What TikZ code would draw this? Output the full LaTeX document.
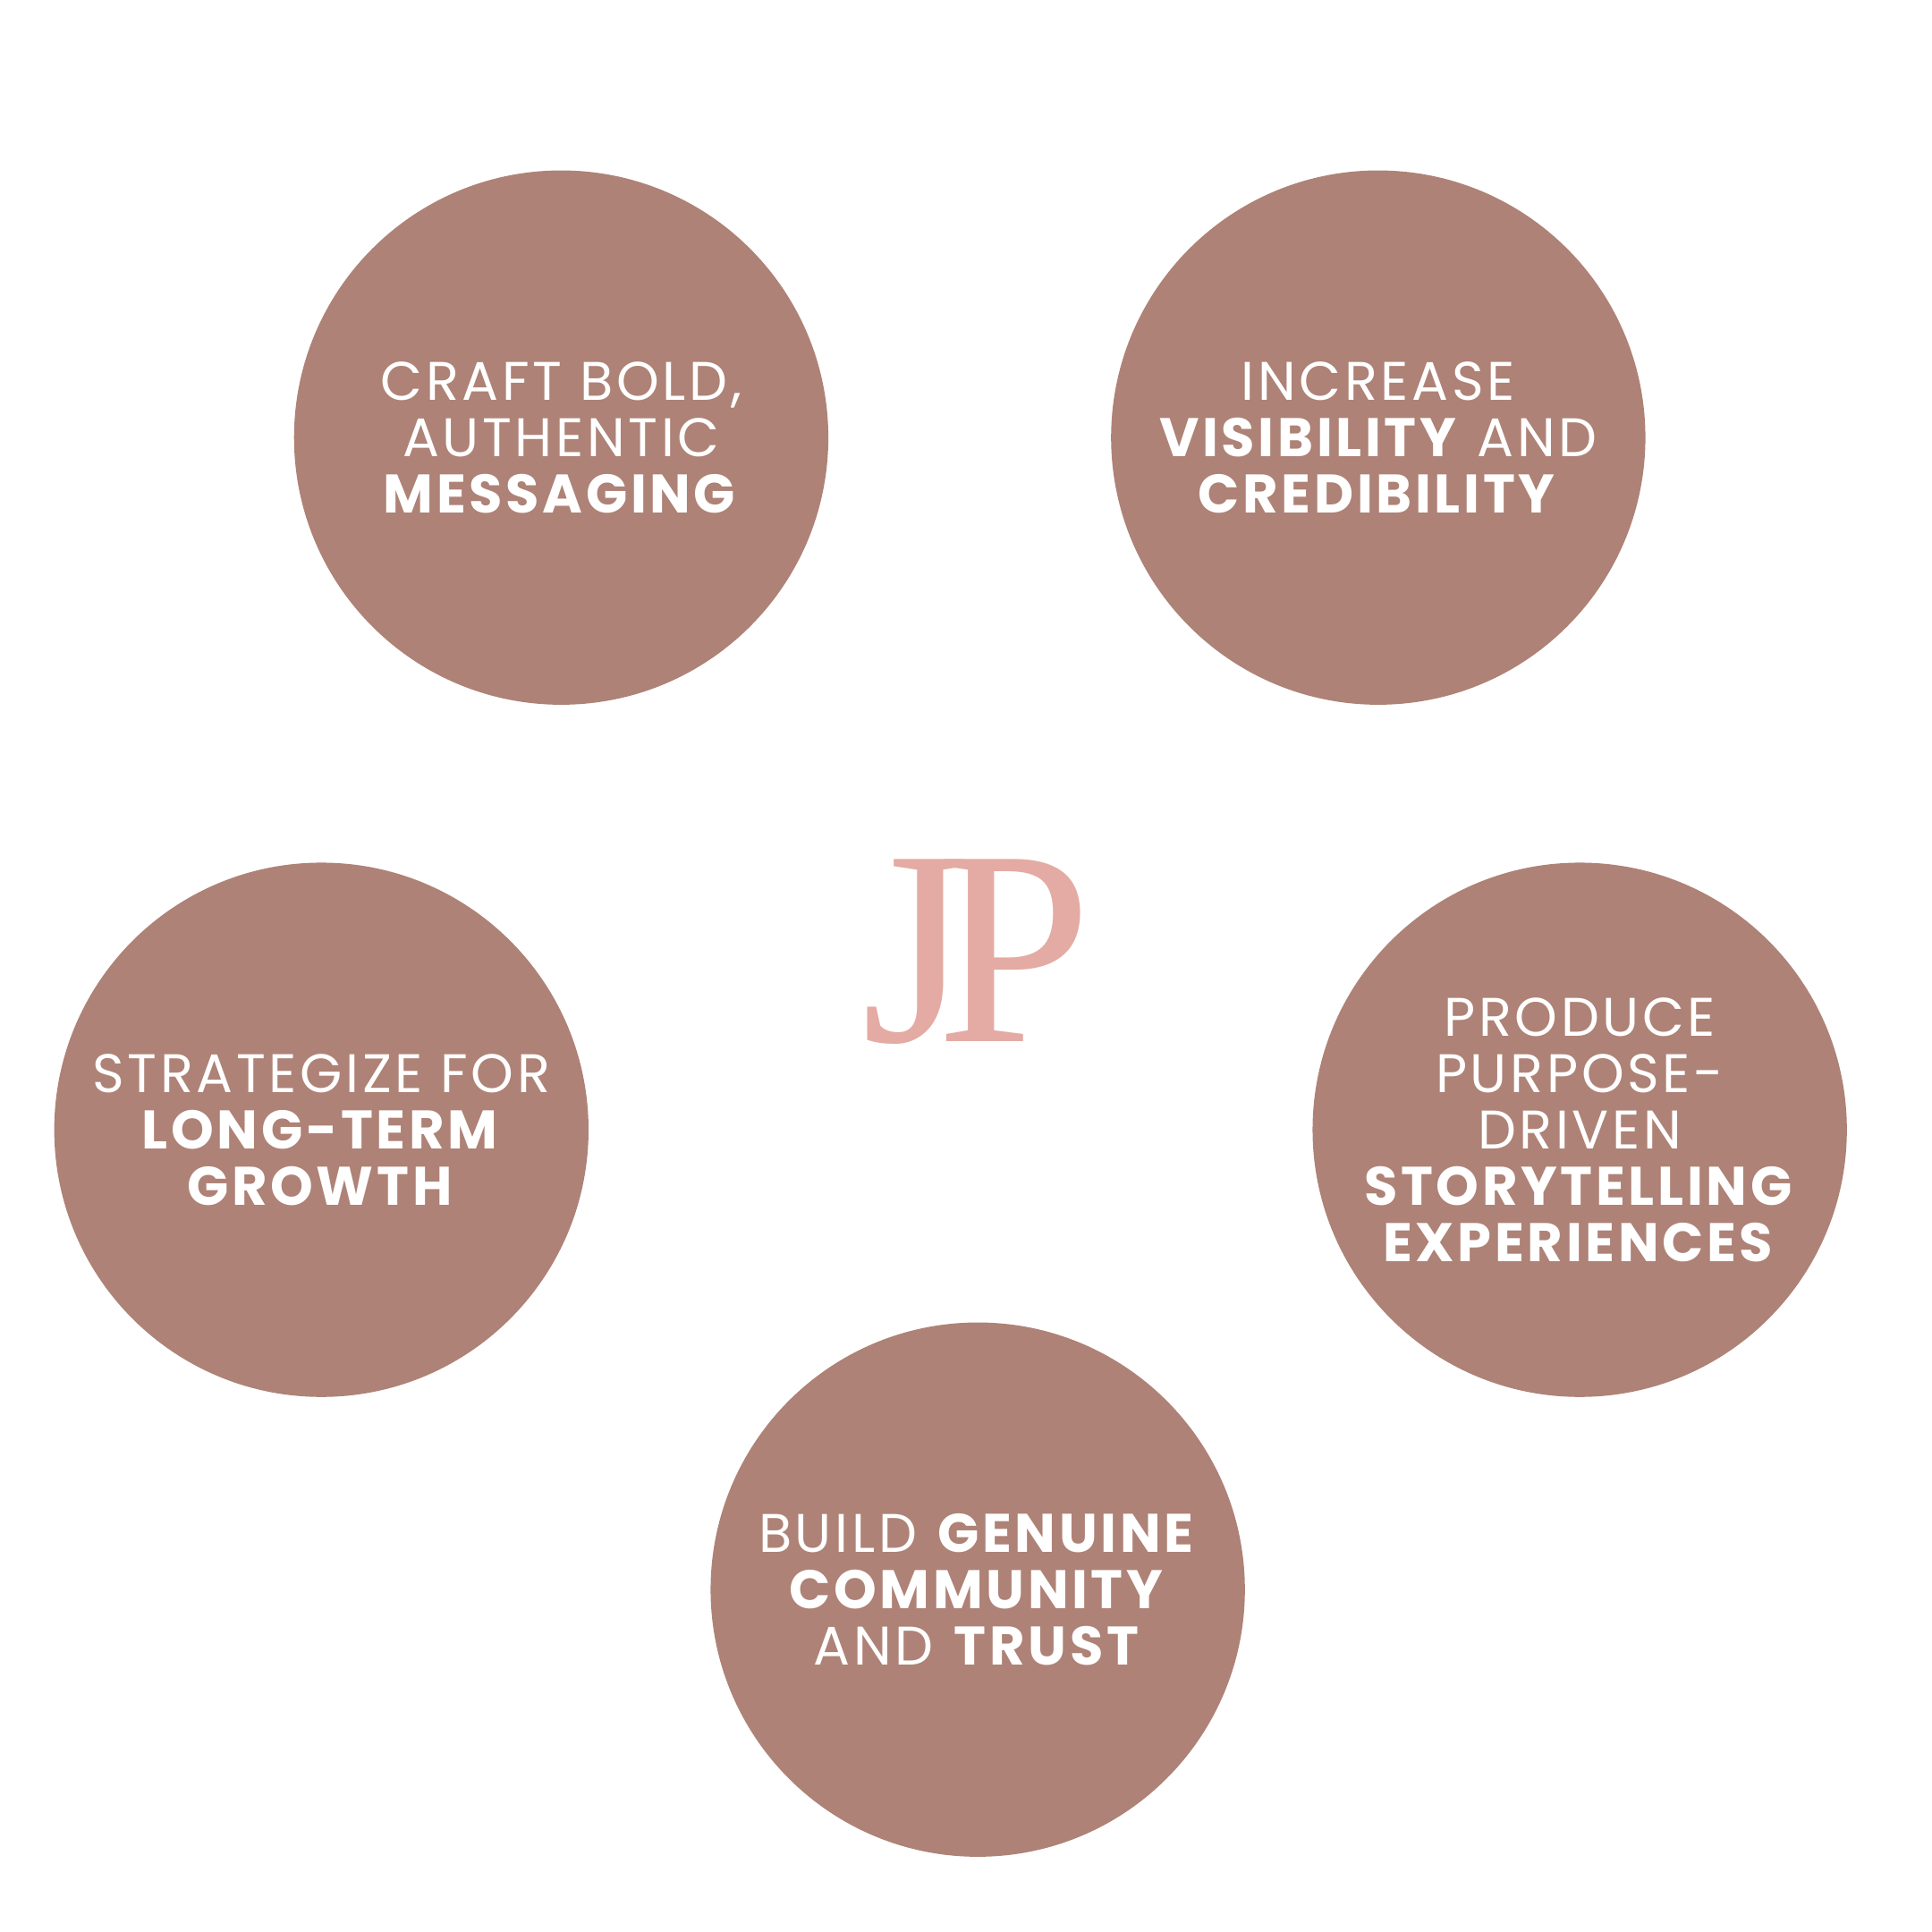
\documentclass[tikz,border=0pt]{standalone}
\usepackage{fontspec}
\setmainfont{Poppins}[LetterSpace=6]
\newfontfamily\logofont{Liberation Serif}
\definecolor{circ}{HTML}{AE8276}
\definecolor{logo}{HTML}{E3ABA3}
\tikzset{goal/.style={circle,fill=circ,minimum size=4.32cm,inner sep=0pt,text=white,align=center,font=\fontsize{12.5}{13}\selectfont}}
\begin{document}
\begin{tikzpicture}[x=0.01cm,y=-0.01cm]
\useasboundingbox (0,0) rectangle (1563,1563);
\node[goal] (c1) at (454,354) {CRAFT BOLD,\\AUTHENTIC\\\textbf{MESSAGING}};
\node[goal] (c2) at (1115,354) {INCREASE\\\textbf{VISIBILITY} AND\\\textbf{CREDIBILITY}};
\node[goal] (c3) at (260,914) {STRATEGIZE FOR\\\textbf{LONG-TERM}\\\textbf{GROWTH}};
\node[goal] (c4) at (1278,914) {PRODUCE\\PURPOSE-\\DRIVEN\\\textbf{STORYTELLING}\\\textbf{EXPERIENCES}};
\node[goal] (c5) at (791,1286) {BUILD \textbf{GENUINE}\\\textbf{COMMUNITY}\\AND \textbf{TRUST}};
\node[text=logo,font=\logofont\fontsize{64}{64}\selectfont,inner sep=0pt] (logo) at (790,770) {J\kern-0.12em P};
\end{tikzpicture}
\end{document}
